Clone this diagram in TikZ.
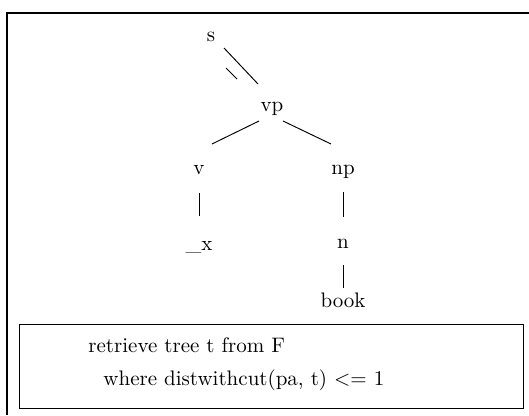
\documentclass[tikz,border=0pt]{standalone}
\usepackage{tikz}
\usetikzlibrary{calc}

\tikzset{
  cat/.style={inner sep=0pt, anchor=base},
  branch/.style={line width=0.45pt},
  querybox/.style={draw, line width=0.6pt, inner sep=0pt, anchor=north west,
    minimum width=504*0.476pt, minimum height=84*0.476pt},
}

\begin{document}
\begin{tikzpicture}[x=0.476pt, y=-0.476pt]
    \useasboundingbox (0,0) rectangle (529,415);
    \draw[line width=0.6pt] (529,13) -- (7,13) -- (7,415);

    \node[cat] (s) at (211,42) {s};
    \node[cat] (vp) at (272,112) {vp};
    \node[cat] (v) at (199,174) {v};
    \node[cat] (np) at (343,174) {np};
    \node[cat] (x) at (199,250) {\_x};
    \node[cat] (n) at (343,248) {n};
    \node[cat] (book) at (343,307) {book};

    \draw[branch] ([shift={(13,6)}]s.base) -- ([shift={(-14,-28)}]vp.base);
    \draw[branch] ([shift={(15,26)}]s.base) -- ([shift={(26,37)}]s.base);
    \draw[branch] ([shift={(-13,9)}]vp.base) -- ([shift={(13,-30)}]v.base);
    \draw[branch] ([shift={(11,9)}]vp.base) -- ([shift={(-12,-30)}]np.base);
    \draw[branch] ([shift={(0,19)}]v.base) -- ([shift={(0,-34)}]x.base);
    \draw[branch] ([shift={(0,18)}]np.base) -- ([shift={(0,-31)}]n.base);
    \draw[branch] ([shift={(0,17)}]n.base) -- ([shift={(0,-19)}]book.base);

    \node[querybox] (query) at (19,324) {};
    \node[inner sep=0pt, anchor=base west] (q1) at (88,352) {retrieve tree t from F};
    \node[inner sep=0pt, anchor=base west] (q2) at (103,385) {where distwithcut(pa, t) $<=$ 1};
\end{tikzpicture}
\end{document}
